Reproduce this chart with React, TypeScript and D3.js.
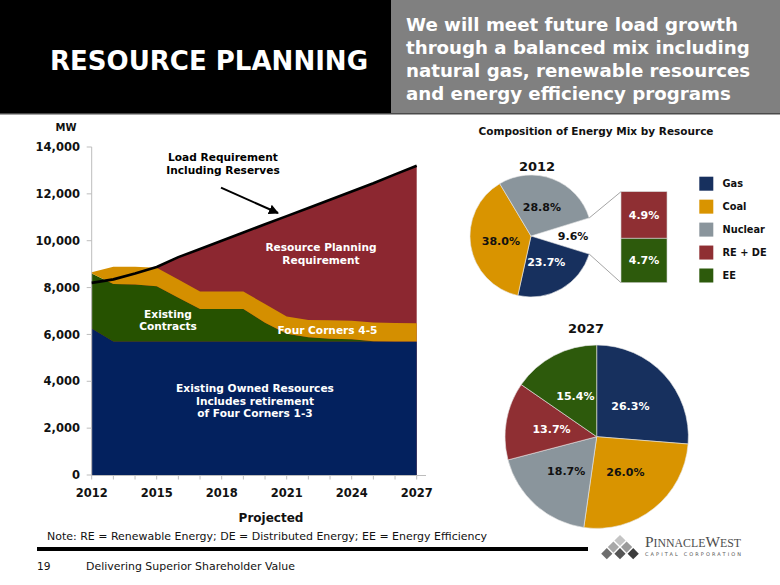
import React from 'react';
import * as d3 from 'd3';

// ---------- DATA ----------
const years = [2012, 2013, 2014, 2015, 2016, 2017, 2018, 2019, 2020, 2021, 2022, 2023, 2024, 2025, 2026, 2027];
const loadRequirement = [8200, 8350, 8600, 8880, 9300, 9650, 10000, 10350, 10700, 11050, 11400, 11750, 12100, 12450, 12830, 13200];
const existingOwned = [6250, 5700, 5700, 5700, 5700, 5700, 5700, 5700, 5700, 5700, 5700, 5700, 5700, 5700, 5700, 5700];
const existingContracts = [2350, 2450, 2430, 2360, 1870, 1385, 1385, 1385, 800, 330, 180, 120, 90, 10, 0, 0];
const fourCorners45 = [50, 740, 760, 790, 770, 745, 745, 745, 800, 730, 740, 780, 790, 800, 790, 780];

const yTicks = [0, 2000, 4000, 6000, 8000, 10000, 12000, 14000];
const xTickLabels = [2012, 2015, 2018, 2021, 2024, 2027];

const mix2012Labels = ['Other', 'Gas', 'Coal', 'Nuclear'];
const mix2012Values = [9.6, 23.7, 38.0, 28.8];
const other2012Labels = ['EE', 'RE + DE'];
const other2012Values = [4.7, 4.9];

const mix2027Labels = ['Gas', 'Coal', 'Nuclear', 'RE + DE', 'EE'];
const mix2027Values = [26.3, 26.0, 18.7, 13.7, 15.4];

const legendLabels = ['Gas', 'Coal', 'Nuclear', 'RE + DE', 'EE'];

const pieColors: Record<string, string> = {
  Gas: '#17305e',
  Coal: '#d99400',
  Nuclear: '#8a959c',
  'RE + DE': '#8f2f33',
  EE: '#2d5a0c',
  Other: '#ffffff',
};
const pieTextColor: Record<string, string> = {
  Gas: '#ffffff', Coal: '#111111', Nuclear: '#111111', 'RE + DE': '#ffffff', EE: '#ffffff', Other: '#111111',
};

const F = "'DejaVu Sans', Verdana, sans-serif";

export default function App() {
  // ---------- area chart ----------
  const x = d3.scaleLinear().domain([2012, 2027]).range([91.7, 416.7]);
  const y = d3.scaleLinear().domain([0, 14000]).range([475, 147]);

  const rows = years.map((yr, i) => ({
    year: yr,
    owned: existingOwned[i],
    contracts: existingContracts[i],
    fc: fourCorners45[i],
  }));
  const stacked = d3.stack<any>().keys(['owned', 'contracts', 'fc'])(rows);
  const stackColors = ['#03215e', '#265200', '#d48f00'];
  const area = d3.area<any>().x((d) => x(d.data.year)).y0((d) => y(d[0])).y1((d) => y(d[1]));
  const loadArea = d3.area<number>().x((_, i) => x(years[i])).y0(y(0)).y1((d) => y(d));
  const loadLine = d3.line<number>().x((_, i) => x(years[i])).y((d) => y(d));

  // ---------- 2012 pie ----------
  const c12 = { x: 531, y: 236 }, r12 = 61;
  const total12 = d3.sum(mix2012Values);
  const otherSpan = (2 * Math.PI * mix2012Values[0]) / total12;
  const start12 = Math.PI / 2 - otherSpan / 2;
  const pie12 = d3.pie<number>().sort(null).value((d) => d).startAngle(start12).endAngle(start12 + 2 * Math.PI)(mix2012Values);
  const arc12 = d3.arc<any>().innerRadius(0).outerRadius(r12);
  const pt = (a: number, r: number, c: { x: number; y: number }) => [c.x + r * Math.sin(a), c.y - r * Math.cos(a)];

  const barX = 621, barW = 46;
  const yBar = d3.scaleLinear().domain([0, d3.sum(other2012Values)]).range([282.7, 191.7]);
  let acc = 0;
  const barSegs = other2012Values.map((v, i) => {
    const s = { label: other2012Labels[i], v, y0: acc, y1: acc + v };
    acc += v;
    return s;
  });
  const otherArc = pie12[0];
  const pA = pt(otherArc.startAngle, r12, c12);
  const pB = pt(otherArc.endAngle, r12, c12);

  // ---------- 2027 pie ----------
  const c27 = { x: 596.7, y: 436.7 }, r27 = 91.7;
  const pie27 = d3.pie<number>().sort(null).value((d) => d)(mix2027Values);
  const arc27 = d3.arc<any>().innerRadius(0).outerRadius(r27);

  // legend
  const legendY = d3.scalePoint<string>().domain(legendLabels).range([183.7, 275.5]);

  // logo diamonds (decorative)
  const diamonds = [
    [0, 0, '#c4c4c4'],
    [-1, 1, '#a8a8a8'], [1, 1, '#9a9a9a'],
    [-2, 2, '#6e6e6e'], [0, 2, '#555555'], [2, 2, '#3c3c3c'],
  ] as [number, number, string][];
  const dHalf = 5.6, dStepX = 6.6, dStepY = 6.6;

  return (
    <svg width={780} height={585} style={{ position: 'absolute', left: 0, top: 0, background: '#fff' }} fontFamily={F}>
      <rect x={0} y={0} width={780} height={585} fill="#fff" />
      {/* header */}
      <rect x={0} y={0} width={391} height={113} fill="#000" />
      <rect x={391} y={0} width={389} height={113} fill="#808080" />
      <line x1={0} x2={780} y1={113.8} y2={113.8} stroke="#4a4a4a" strokeWidth={1.4} />
      <text x={50} y={70} fill="#fff" fontSize={26} fontWeight="bold" textLength={318} lengthAdjust="spacingAndGlyphs">RESOURCE PLANNING</text>
      {['We will meet future load growth', 'through a balanced mix including', 'natural gas, renewable resources', 'and energy efficiency programs'].map((t, i) => (
        <text key={i} x={406} y={31 + i * 23} fill="#fff" fontSize={18.2} fontWeight="bold">{t}</text>
      ))}

      {/* area chart */}
      <path d={loadArea(loadRequirement) || ''} fill="#8c2730" />
      {stacked.map((s, i) => (
        <path key={i} d={area(s as any) || ''} fill={stackColors[i]} />
      ))}
      <line x1={x(2012)} x2={x(2012)} y1={y(14000)} y2={y(0)} stroke="#bdbdbd" strokeWidth={1} />
      <line x1={x(2012)} x2={426} y1={y(0) + 0.5} y2={y(0) + 0.5} stroke="#bdbdbd" strokeWidth={1} />
      {yTicks.map((t) => (
        <g key={t}>
          <line x1={x(2012) - 5} x2={x(2012)} y1={y(t)} y2={y(t)} stroke="#bdbdbd" />
          <text x={80} y={y(t)} dy="0.36em" textAnchor="end" fontSize={11.5} fontWeight="bold" fill="#111">{d3.format(',')(t)}</text>
        </g>
      ))}
      {years.map((yr) => (
        <line key={yr} x1={x(yr)} x2={x(yr)} y1={y(0)} y2={y(0) + 4.5} stroke="#bdbdbd" />
      ))}
      {xTickLabels.map((yr) => (
        <text key={yr} x={x(yr)} y={497} textAnchor="middle" fontSize={11.5} fontWeight="bold" fill="#111">{yr}</text>
      ))}
      <text x={271} y={522} textAnchor="middle" fontSize={12} fontWeight="bold" fill="#111">Projected</text>
      <text x={66} y={131} textAnchor="middle" fontSize={10} fontWeight="bold" fill="#111">MW</text>

      <path d={loadLine(loadRequirement) || ''} fill="none" stroke="#000" strokeWidth={2.6} strokeLinejoin="round" />

      <defs>
        <marker id="arrowhead" viewBox="0 0 10 10" refX="9" refY="5" markerWidth="5" markerHeight="5" orient="auto">
          <path d="M0,0 L10,5 L0,10 z" fill="#000" />
        </marker>
      </defs>
      <line x1={221} y1={187.7} x2={278} y2={213} stroke="#000" strokeWidth={2} markerEnd="url(#arrowhead)" />

      <g fontSize={10.6} fontWeight="bold" textAnchor="middle">
        <text x={223} y={161} fill="#000">Load Requirement</text>
        <text x={223} y={174} fill="#000">Including Reserves</text>
        <text x={321} y={251} fill="#fff">Resource Planning</text>
        <text x={321} y={264} fill="#fff">Requirement</text>
        <text x={168} y={317.5} fill="#fff">Existing</text>
        <text x={168} y={330.3} fill="#fff">Contracts</text>
        <text x={327.5} y={333.5} fill="#fff">Four Corners 4-5</text>
        <text x={255} y={392.3} fill="#fff">Existing Owned Resources</text>
        <text x={255} y={404.8} fill="#fff">Includes retirement</text>
        <text x={255} y={417.3} fill="#fff">of Four Corners 1-3</text>
      </g>

      {/* pies */}
      <text x={596} y={135} textAnchor="middle" fontSize={10.5} fontWeight="bold" fill="#111">Composition of Energy Mix by Resource</text>
      <text x={537} y={170.5} textAnchor="middle" fontSize={13} fontWeight="bold" fill="#111">2012</text>
      <g transform={`translate(${c12.x},${c12.y})`}>
        {pie12.map((p, i) =>
          mix2012Labels[i] === 'Other' ? null : (
            <path key={i} d={arc12(p) || ''} fill={pieColors[mix2012Labels[i]]} stroke="#e8e8e8" strokeWidth={0.6} />
          )
        )}
      </g>
      {pie12.map((p, i) => {
        const mid = (p.startAngle + p.endAngle) / 2;
        const [lx, ly] = pt(mid, r12 * (mix2012Labels[i] === 'Other' ? 0.69 : 0.5), c12);
        return (
          <text key={i} x={lx} y={ly} dy="0.36em" textAnchor="middle" fontSize={11} fontWeight="bold" fill={pieTextColor[mix2012Labels[i]]}>
            {mix2012Values[i].toFixed(1)}%
          </text>
        );
      })}
      <line x1={pA[0]} y1={pA[1]} x2={barX} y2={yBar(d3.sum(other2012Values))} stroke="#9a9a9a" strokeWidth={0.9} />
      <line x1={pB[0]} y1={pB[1]} x2={barX} y2={yBar(0)} stroke="#9a9a9a" strokeWidth={0.9} />
      {barSegs.map((s) => (
        <g key={s.label}>
          <rect x={barX} y={yBar(s.y1)} width={barW} height={yBar(s.y0) - yBar(s.y1)} fill={pieColors[s.label]} stroke="#d0d0d0" strokeWidth={0.6} />
          <text x={barX + barW / 2} y={(yBar(s.y0) + yBar(s.y1)) / 2} dy="0.36em" textAnchor="middle" fontSize={11} fontWeight="bold" fill="#fff">
            {s.v.toFixed(1)}%
          </text>
        </g>
      ))}

      {legendLabels.map((l) => (
        <g key={l}>
          <rect x={699.3} y={(legendY(l) as number) - 7} width={14} height={14} fill={pieColors[l]} />
          <text x={722.5} y={legendY(l) as number} dy="0.36em" fontSize={9.8} fontWeight="bold" fill="#111">{l}</text>
        </g>
      ))}

      <text x={586} y={333} textAnchor="middle" fontSize={13} fontWeight="bold" fill="#111">2027</text>
      <g transform={`translate(${c27.x},${c27.y})`}>
        {pie27.map((p, i) => (
          <path key={i} d={arc27(p) || ''} fill={pieColors[mix2027Labels[i]]} stroke="#e8e8e8" strokeWidth={0.6} />
        ))}
      </g>
      {pie27.map((p, i) => {
        const mid = (p.startAngle + p.endAngle) / 2;
        const [lx, ly] = pt(mid, r27 * 0.5, c27);
        return (
          <text key={i} x={lx} y={ly} dy="0.36em" textAnchor="middle" fontSize={11} fontWeight="bold" fill={pieTextColor[mix2027Labels[i]]}>
            {mix2027Values[i].toFixed(1)}%
          </text>
        );
      })}

      {/* footer */}
      <text x={47} y={540} fontSize={10.6} fill="#111" textLength={440} lengthAdjust="spacingAndGlyphs">Note: RE = Renewable Energy; DE = Distributed Energy; EE = Energy Efficiency</text>
      <rect x={37} y={547} width={551} height={4} fill="#000" />
      <text x={37} y={570} fontSize={10.6} fill="#111">19</text>
      <text x={86} y={570} fontSize={10.6} fill="#111" textLength={209} lengthAdjust="spacingAndGlyphs">Delivering Superior Shareholder Value</text>

      {/* logo */}
      {diamonds.map(([cx, cy, col], i) => {
        const px = 620 + cx * dStepX, py = 540.5 + cy * dStepY;
        return <path key={i} d={`M${px},${py - dHalf} L${px + dHalf},${py} L${px},${py + dHalf} L${px - dHalf},${py} Z`} fill={col} />;
      })}
      <text x={645} y={547} fill="#4d4d4d" fontFamily="'Liberation Serif', 'DejaVu Serif', serif" textLength={96} lengthAdjust="spacingAndGlyphs">
        <tspan fontSize={15}>P</tspan><tspan fontSize={11.5}>INNACLE</tspan><tspan fontSize={15}>W</tspan><tspan fontSize={11.5}>EST</tspan>
      </text>
      <text x={645} y={555.5} fill="#555" fontSize={5} fontFamily="'DejaVu Sans', sans-serif" textLength={96} lengthAdjust="spacing">CAPITAL CORPORATION</text>
    </svg>
  );
}
